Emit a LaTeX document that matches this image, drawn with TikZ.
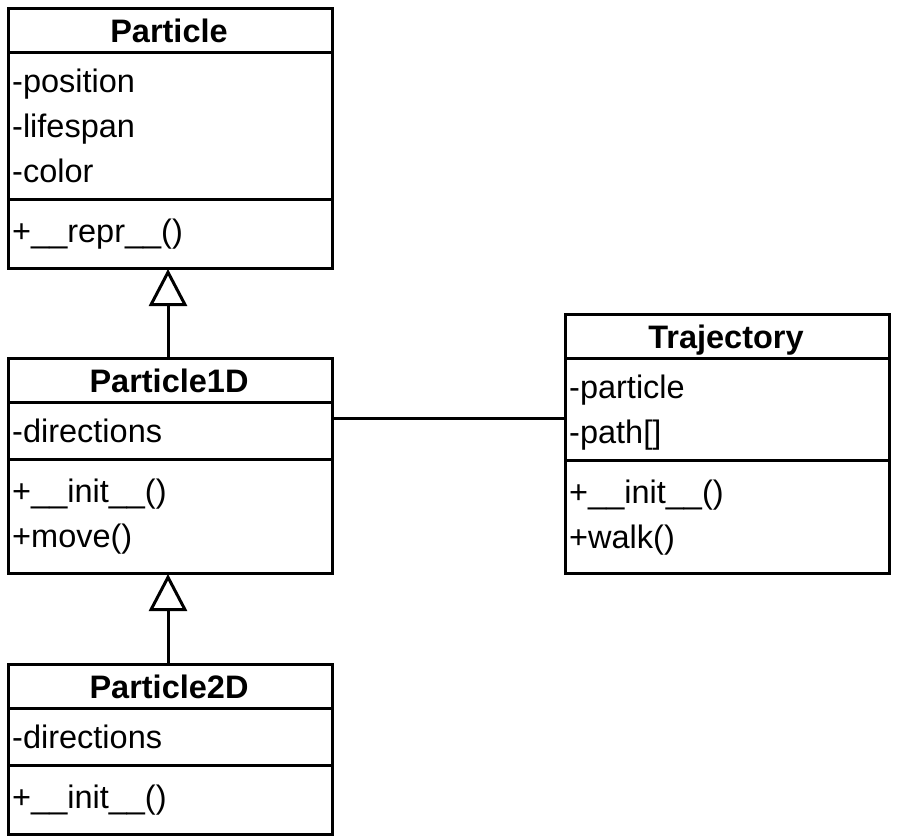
\documentclass[tikz,border=0pt]{standalone}
\usepackage{fontspec}
\setmainfont{Liberation Sans}
\usetikzlibrary{arrows.meta}
\begin{document}
\begin{tikzpicture}[x=1pt,y=-1pt,
  classbox/.style={draw, line width=3pt, rectangle, anchor=north west, inner sep=0pt, minimum width=324pt},
  sep/.style={line width=3pt},
  title/.style={anchor=base, inner sep=0pt, font=\fontsize{32.5pt}{38pt}\selectfont\bfseries},
  member/.style={anchor=base west, inner sep=0pt, font=\fontsize{32.5pt}{38pt}\selectfont},
  inherit/.style={line width=3pt, -{Triangle[open, length=37pt, width=38pt]}, shorten >=-1pt},
  assoc/.style={line width=3pt}]
\useasboundingbox (0,0) rectangle (900,839);

% Particle
\node[classbox, minimum height=260pt] (particle) at (7,7) {};
\draw[sep] (7,52) -- (331,52);
\draw[sep] (7,199) -- (331,199);
\node[title] (pT) at (169,42) {Particle};
\node[member] (pA1) at (12,92) {-position};
\node[member] (pA2) at (12,137) {-lifespan};
\node[member] (pA3) at (12,182) {-color};
\node[member] (pM1) at (12,242) {+\_\_repr\_\_()};

% Particle1D
\node[classbox, minimum height=215pt] (p1) at (7,357) {};
\draw[sep] (7,402) -- (331,402);
\draw[sep] (7,459) -- (331,459);
\node[title] (p1T) at (169,392) {Particle1D};
\node[member] (p1A1) at (12,442) {-directions};
\node[member] (p1M1) at (12,502) {+\_\_init\_\_()};
\node[member] (p1M2) at (12,547) {+move()};

% Particle2D
\node[classbox, minimum height=170pt] (p2) at (7,663) {};
\draw[sep] (7,708) -- (331,708);
\draw[sep] (7,765) -- (331,765);
\node[title] (p2T) at (169,698) {Particle2D};
\node[member] (p2A1) at (12,748) {-directions};
\node[member] (p2M1) at (12,808) {+\_\_init\_\_()};

% Trajectory
\node[classbox, minimum height=259pt] (traj) at (564,313) {};
\draw[sep] (564,358) -- (888,358);
\draw[sep] (564,460) -- (888,460);
\node[title] (tT) at (726,348) {Trajectory};
\node[member] (tA1) at (569,398) {-particle};
\node[member] (tA2) at (569,443) {-path[]};
\node[member] (tM1) at (569,503) {+\_\_init\_\_()};
\node[member] (tM2) at (569,548) {+walk()};

% connectors
\draw[inherit] (p1.north -| 168,0) -- (particle.south -| 168,0);
\draw[inherit] (p2.north -| 168,0) -- (p1.south -| 168,0);
\draw[assoc] (p1.east |- 0,418) -- (traj.west |- 0,418);
\end{tikzpicture}
\end{document}
